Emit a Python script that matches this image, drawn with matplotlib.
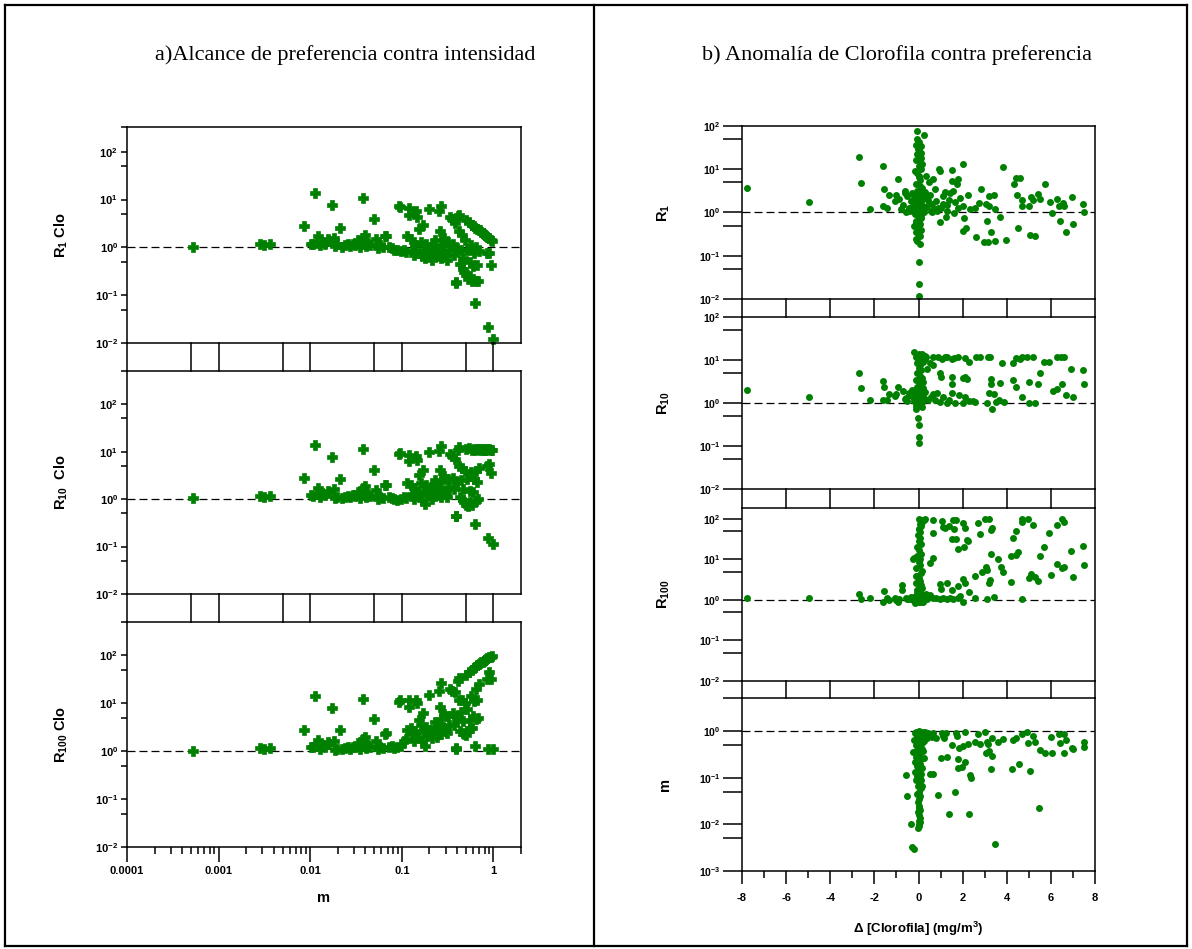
import numpy as np
import matplotlib
matplotlib.use('Agg')
import matplotlib.pyplot as plt
from matplotlib.lines import Line2D
from matplotlib.ticker import (FixedLocator, FixedFormatter, FuncFormatter,
                               NullFormatter, MultipleLocator, LogLocator)
from matplotlib.transforms import blended_transform_factory

plt.rcParams['font.family'] = ['Liberation Sans', 'DejaVu Sans']
plt.rcParams['font.weight'] = 'bold'
plt.rcParams['axes.labelweight'] = 'bold'
plt.rcParams['mathtext.fontset'] = 'custom'
plt.rcParams['mathtext.rm'] = 'Liberation Sans'
plt.rcParams['mathtext.bf'] = 'Liberation Sans:bold'
plt.rcParams['axes.unicode_minus'] = False

# ---- panel a: preference reach against intensity m ----
m_left = [0.00053, 0.0028, 0.0031, 0.0036, 0.0085, 0.0102, 0.0108, 0.0114, 0.0118, 0.0122,
          0.0128, 0.0135, 0.0145, 0.0155, 0.0162, 0.0175, 0.018, 0.0185, 0.0195, 0.0213,
          0.022, 0.024, 0.026, 0.0275, 0.029, 0.031, 0.033, 0.035, 0.036, 0.0377,
          0.038, 0.040, 0.041, 0.043, 0.045, 0.050, 0.052, 0.055, 0.058, 0.062,
          0.066, 0.068, 0.072, 0.078, 0.083, 0.088, 0.092, 0.095, 0.098, 0.105,
          0.11, 0.115, 0.119, 0.12, 0.125, 0.13, 0.135, 0.14, 0.144, 0.145,
          0.15, 0.155, 0.16, 0.165, 0.17, 0.175, 0.18, 0.185, 0.19, 0.196,
          0.2, 0.21, 0.215, 0.22, 0.23, 0.24, 0.25, 0.253, 0.258, 0.265,
          0.268, 0.27, 0.28, 0.29, 0.3, 0.31, 0.32, 0.33, 0.339, 0.35,
          0.36, 0.37, 0.38, 0.39, 0.395, 0.4, 0.41, 0.418, 0.42, 0.43,
          0.44, 0.45, 0.46, 0.47, 0.48, 0.49, 0.5, 0.507, 0.52, 0.53,
          0.54, 0.55, 0.56, 0.57, 0.58, 0.59, 0.6, 0.61, 0.62, 0.635,
          0.635, 0.64, 0.65, 0.66, 0.67, 0.68, 0.69, 0.7, 0.72, 0.74,
          0.76, 0.78, 0.8, 0.818, 0.84, 0.85, 0.86, 0.87, 0.89, 0.9,
          0.93, 0.95, 0.97, 0.99]
r1_left = [1.03, 1.15, 1.12, 1.15, 2.8, 1.18, 1.15, 14, 1.25, 1.7,
           1.1, 1.3, 1.2, 1.5, 1.35, 7.6, 1.55, 1.05, 1.15, 2.6,
           1.0, 1.1, 1.2, 1.05, 1.15, 1.1, 1.4, 1.0, 1.2, 10.6,
           1.6, 1.8, 1.05, 1.25, 1.1, 3.9, 1.5, 0.95, 1.1, 1.0,
           1.7, 1.75, 1.0, 0.95, 0.9, 0.88, 7.4, 7.0, 0.85, 0.9,
           0.8, 1.7, 6.6, 4.8, 1.5, 0.85, 0.7, 1.1, 5.9, 4.4,
           0.75, 2.4, 1.3, 0.65, 2.9, 0.9, 0.6, 1.2, 0.8, 6.3,
           0.7, 1.0, 0.55, 0.75, 1.4, 0.65, 0.9, 5.9, 2.2, 0.6,
           7.4, 1.1, 0.8, 1.6, 0.7, 0.55, 1.3, 0.9, 4.4, 3.9,
           1.2, 0.7, 3.2, 0.19, 0.18, 0.95, 4.6, 4.8, 2.2, 0.45,
           0.9, 1.8, 0.35, 0.6, 0.3, 1.4, 0.26, 3.8, 0.9, 0.22,
           3.4, 0.5, 0.25, 1.1, 0.2, 3.0, 0.4, 0.75, 2.8, 0.069,
           2.6, 0.2, 1.0, 0.43, 2.4, 0.2, 0.85, 2.3, 2.3, 2.1,
           2.0, 1.9, 1.85, 1.85, 1.7, 0.78, 1.65, 0.022, 0.77, 1.55,
           1.45, 0.43, 1.35, 0.012]
r10_left = [1.03, 1.15, 1.12, 1.15, 2.8, 1.2, 1.15, 14, 1.25, 1.7,
            1.1, 1.35, 1.2, 1.5, 1.35, 7.8, 1.6, 1.05, 1.1, 2.7,
            1.05, 1.1, 1.15, 1.1, 1.2, 1.15, 1.4, 1.05, 1.2, 11.5,
            1.7, 1.9, 1.1, 1.3, 1.15, 4.2, 1.55, 1.0, 1.1, 1.05,
            2.0, 2.0, 1.1, 1.05, 1.0, 0.95, 8.8, 9.5, 1.0, 1.1,
            1.05, 2.2, 8.5, 6.3, 2.0, 1.3, 1.0, 1.7, 8.0, 6.6,
            1.2, 3.2, 2.2, 0.95, 4.2, 1.5, 0.8, 2.0, 1.3, 10.0,
            1.2, 1.8, 1.0, 1.4, 2.5, 1.2, 1.6, 10.5, 4.2, 1.1,
            13.0, 2.3, 1.5, 3.0, 1.3, 1.1, 2.6, 1.8, 9.0, 8.0,
            2.8, 1.6, 7.0, 0.45, 0.43, 2.3, 11.0, 12.5, 5.0, 1.1,
            2.5, 4.5, 0.95, 1.6, 0.85, 3.9, 0.75, 11.5, 2.7, 0.7,
            12.0, 1.5, 0.85, 3.8, 0.75, 11.0, 1.4, 2.6, 11.5, 0.3,
            11.0, 0.9, 4.0, 2.3, 11.5, 1.0, 4.5, 11.5, 11.0, 11.5,
            11.0, 11.5, 11.0, 11.5, 11.0, 5.0, 11.5, 0.15, 5.5, 11.5,
            11.0, 3.6, 11.0, 0.115]
r100_left = [1.03, 1.15, 1.12, 1.15, 2.8, 1.22, 1.2, 14.5, 1.3, 1.75,
             1.1, 1.35, 1.2, 1.55, 1.4, 8.0, 1.65, 1.05, 1.1, 2.8,
             1.1, 1.15, 1.2, 1.1, 1.25, 1.2, 1.5, 1.1, 1.3, 12.5,
             1.8, 2.0, 1.15, 1.35, 1.2, 4.7, 1.6, 1.1, 1.2, 1.15,
             2.3, 2.4, 1.2, 1.3, 1.15, 1.25, 10.5, 11.5, 1.3, 1.6,
             1.8, 2.8, 11.5, 8.2, 3.0, 2.3, 1.6, 2.6, 12.0, 10.0,
             2.0, 4.5, 3.5, 1.6, 6.2, 2.5, 1.3, 3.2, 2.1, 15.0,
             2.2, 2.8, 1.9, 2.6, 4.0, 2.0, 3.3, 18.0, 8.5, 2.3,
             27.0, 4.8, 3.2, 6.0, 2.7, 2.4, 5.5, 3.6, 20.0, 18.0,
             6.2, 3.5, 17.0, 1.15, 1.1, 5.0, 30.0, 34.0, 12.0, 2.6,
             6.5, 11.5, 2.4, 4.2, 2.3, 10.0, 2.2, 40.0, 7.5, 2.6,
             45.0, 4.5, 3.0, 14.0, 3.0, 50.0, 5.5, 11.0, 55.0, 1.3,
             58.0, 4.8, 20.0, 12.0, 62.0, 5.0, 25.0, 66.0, 68.0, 72.0,
             74.0, 77.0, 80.0, 82.0, 85.0, 32.0, 88.0, 1.1, 45.0, 92.0,
             95.0, 33.0, 98.0, 1.12]

# ---- panel b: chlorophyll anomaly against preference ----
dchl_r1 = [-7.77, -4.97, -2.71, -2.62, -2.22, -1.59, -1.55, -1.59, -1.41, -1.33,
           -1.06, -1.02, -0.91, -0.90, -0.70, -0.60, -0.50, -0.45, -0.40, -0.35,
           -0.55, -0.80, -0.60, -0.05, 0.27, -0.08, -0.10, 0.12, -0.06, 0.12,
           0.18, -0.15, 0.00, 0.05, 0.00, 0.00, 0.00, -0.12, 0.09, -0.05,
           0.08, -0.20, -0.10, 0.00, 0.10, -0.15, 0.05, 0.15, -0.05, 0.20,
           -0.25, 0.00, 0.10, -0.10, 0.05, 0.20, -0.20, 0.00, 0.10, -0.05,
           0.15, -0.10, 0.05, 0.00, -0.05, 0.10, 0.00, 0.05, -0.10, 0.10,
           -0.05, 0.00, 0.08, -0.12, 0.12, 0.02, -0.08, 0.25, -0.30, 0.30,
           -0.02, 0.18, -0.18, 0.07, 0.22, -0.28, 0.28, 0.00, 0.05, -0.10,
           0.10, 0.02, -0.03, 0.34, 0.49, 0.67, 0.75, 0.94, 0.97, 0.97,
           1.12, 1.24, 1.54, 1.53, 1.55, 1.80, 1.75, 1.65, 1.60, 2.00,
           2.00, 2.05, 2.00, 2.15, 2.25, 2.35, 2.55, 2.60, 2.75, 2.85,
           2.95, 3.05, 3.10, 3.15, 3.20, 3.20, 3.30, 3.40, 3.45, 3.45,
           3.70, 3.85, 3.95, 4.35, 4.40, 4.45, 4.50, 4.60, 4.70, 4.70,
           5.00, 5.05, 5.10, 5.20, 5.30, 5.40, 5.50, 5.75, 5.95, 6.05,
           6.30, 6.35, 6.40, 6.55, 6.60, 6.70, 6.95, 7.00, 7.45, 7.50,
           0.40, 0.50, 0.60, 0.70, 0.80, 0.90, 0.45, 0.55, 0.35, 1.30,
           1.40, 1.10, 0.60, 0.85, 1.00, 1.20, 1.45, 1.30, 1.80, 1.90]
r1_right = [3.65, 1.73, 18.9, 4.75, 1.19, 11.9, 3.45, 1.42, 1.24, 2.6,
            1.8, 2.5, 5.9, 2.0, 1.5, 2.9, 2.4, 1.3, 1.1, 1.8,
            1.0, 1.2, 3.2, 76, 61, 49, 36, 35, 22, 18.5,
            13, 9.2, 7.0, 4.0, 0.07, 0.022, 0.012, 0.24, 0.19, 0.22,
            0.29, 0.5, 0.6, 0.7, 0.8, 0.9, 1.0, 1.1, 1.2, 1.3,
            1.4, 1.5, 1.6, 1.8, 2.0, 2.2, 2.4, 2.6, 2.9, 3.2,
            3.6, 4.5, 5.5, 6.5, 8.0, 10, 12, 15, 0.35, 0.4,
            0.45, 0.3, 0.55, 0.65, 0.75, 0.85, 0.95, 1.05, 1.15, 1.25,
            1.35, 1.45, 1.7, 1.9, 2.1, 2.8, 3.0, 28, 20, 16,
            24, 42, 30, 7.0, 5.1, 6.1, 3.45, 10, 9.2, 0.61,
            2.4, 0.77, 9.5, 5.4, 3.2, 5.9, 4.5, 1.76, 0.96, 13.5,
            1.42, 0.73, 0.38, 0.43, 2.6, 1.2, 1.3, 0.27, 1.65, 3.45,
            0.21, 1.55, 0.63, 0.21, 2.4, 1.4, 0.35, 2.5, 0.22, 1.2,
            0.79, 11.5, 0.23, 4.5, 6.2, 2.6, 0.43, 6.4, 1.95, 1.42,
            1.42, 0.3, 2.3, 1.9, 0.29, 2.65, 2.1, 4.5, 1.76, 0.95,
            2.1, 1.42, 0.62, 1.7, 1.45, 0.36, 2.3, 0.54, 1.6, 1.0,
            1.4, 2.6, 1.6, 1.2, 1.8, 1.3, 1.9, 1.1, 2.2, 1.5,
            1.9, 1.6, 1.0, 1.1, 1.25, 3.0, 2.8, 1.1, 1.3, 2.2]

dchl_r10 = [-7.77, -4.97, -2.71, -2.62, -2.22, -1.59, -1.55, -1.59, -1.41, -1.33,
            -1.06, -1.02, -0.91, -0.70, -0.55, -0.50, -0.40, -0.30, -0.45, -0.60,
            -0.20, 0.00, 0.00, 0.00, -0.02, -0.12, -0.10, 0.05, 0.10, -0.05,
            0.15, -0.20, 0.20, -0.15, 0.00, 0.25, -0.25, 0.08, -0.08, 0.12,
            -0.12, 0.18, 0.02, -0.18, 0.22, -0.05, 0.10, 0.00, -0.10, 0.15,
            0.05, -0.05, 0.12, 0.00, 0.08, -0.08, 0.20, 0.10, 0.02, 0.25,
            -0.05, 0.15, 0.30, 0.05, 0.18, -0.10, 0.22, 0.00, 0.12, 0.28,
            0.35, 0.05, 0.10, -0.15, 0.20, 0.03, -0.03, 0.15, -0.07, 0.07,
            0.67, 0.90, 1.05, 1.20, 1.30, 1.50, 1.60, 1.80, 2.10, 2.30,
            2.60, 2.80, 3.15, 3.25, 3.77, 4.30, 4.40, 4.60, 4.67, 4.93,
            5.20, 5.70, 5.90, 6.30, 6.48, 6.58, 6.93, 7.46, 0.40, 0.50,
            0.64, 0.97, 1.00, 1.54, 1.54, 2.03, 2.10, 2.20, 3.30, 3.30,
            3.70, 4.30, 4.40, 5.00, 5.40, 5.50, 6.30, 6.50, 7.50, 0.67,
            0.75, 0.97, 1.12, 1.27, 1.50, 1.65, 2.00, 2.10, 2.30, 2.45,
            2.55, 3.10, 3.20, 3.35, 3.40, 3.50, 3.65, 3.87, 4.70, 5.00,
            5.30, 6.10, 6.70, 7.00, 0.30, 0.45, 0.55, 0.85, 1.40, 1.85]
r10_right = [2.03, 1.4, 5.0, 2.26, 1.15, 3.3, 2.4, 1.2, 1.2, 1.6,
             1.45, 1.65, 2.3, 1.9, 1.3, 1.1, 1.5, 2.0, 1.7, 1.25,
             15, 0.115, 0.16, 0.3, 0.46, 0.74, 0.85, 0.9, 0.95, 1.0,
             1.05, 1.1, 1.15, 1.2, 1.25, 1.3, 1.35, 1.4, 1.5, 1.6,
             1.7, 1.8, 1.9, 2.0, 2.2, 2.4, 2.7, 3.0, 3.4, 3.8,
             4.3, 5.0, 5.8, 6.6, 7.5, 8.5, 9.2, 10, 10.5, 11,
             11.5, 12, 12.5, 13, 13.5, 12, 11, 14, 9.5, 10.5,
             11.5, 12.5, 13, 1.1, 3.0, 2.1, 1.3, 0.8, 1.05, 1.15,
             11.5, 11.5, 10.5, 11.5, 11.5, 10.5, 11, 11.5, 11, 9.0,
             11.5, 11.5, 11.5, 11.5, 8.3, 8.5, 11, 10.5, 11.5, 11.5,
             11.5, 9.1, 8.8, 11.5, 11.5, 11.5, 6.2, 5.9, 6.2, 8.5,
             7.7, 5.1, 4.0, 4.0, 2.8, 3.8, 4.1, 3.6, 3.6, 2.7,
             2.9, 3.45, 2.35, 3.15, 2.7, 5.0, 2.1, 2.8, 2.7, 1.6,
             1.15, 1.05, 1.35, 1.0, 1.7, 1.0, 1.0, 1.35, 1.1, 1.1,
             1.05, 1.0, 1.7, 0.72, 1.6, 1.05, 1.2, 1.05, 1.4, 1.0,
             1.0, 1.95, 1.5, 1.4, 1.8, 1.2, 1.4, 1.7, 1.15, 1.5]

dchl_r100 = [-7.77, -4.97, -2.71, -2.62, -2.22, -1.55, -1.59, -1.41, -1.33, -1.06,
             -1.02, -0.91, -0.73, -0.73, -0.90, -0.55, -0.45, -0.35, -0.26, -0.20,
             -0.15, 0.00, 0.05, -0.05, 0.10, -0.10, 0.00, 0.15, -0.05, 0.08,
             -0.08, 0.02, 0.12, -0.12, 0.05, 0.00, -0.03, 0.10, 0.18, -0.10,
             0.05, 0.00, 0.08, -0.05, 0.12, 0.02, -0.08, 0.10, 0.00, 0.05,
             -0.03, 0.08, 0.02, 0.12, 0.05, 0.15, 0.25, 0.00, 0.20, 0.10,
             0.25, -0.20, 0.20, -0.25, 0.30, 0.40, 0.15, -0.10, 0.10, 0.00,
             0.30, 0.67, 0.67, 1.05, 1.10, 1.20, 1.40, 1.55, 1.70, 1.60,
             1.50, 1.70, 1.80, 2.05, 2.00, 2.10, 2.20, 2.25, 2.70, 2.80,
             3.00, 3.20, 3.30, 3.35, 4.30, 4.40, 4.70, 4.70, 4.95, 5.20,
             5.90, 6.30, 6.50, 6.60, 0.50, 0.67, 0.97, 1.28, 1.00, 1.50,
             1.80, 2.00, 2.10, 2.30, 2.55, 2.90, 3.05, 3.10, 3.20, 3.25,
             3.30, 3.60, 3.75, 3.85, 4.20, 4.20, 4.40, 4.50, 5.00, 5.10,
             5.30, 5.40, 5.50, 5.70, 6.00, 6.30, 6.50, 6.60, 6.90, 7.00,
             7.45, 7.50, 0.67, 0.97, 1.12, 1.28, 1.43, 1.58, 2.00, 2.55,
             3.10, 3.40, 4.70, 0.50, 0.80, 1.80, 1.90, -0.50, -0.40, 0.35]
r100_right = [1.12, 1.12, 1.38, 1.06, 1.1, 1.68, 0.9, 1.15, 1.0, 1.15,
              1.02, 0.88, 2.3, 1.75, 1.08, 1.1, 1.05, 1.2, 10, 10.7,
              0.85, 0.9, 0.95, 1.0, 1.05, 1.1, 1.2, 1.3, 1.45, 1.6,
              1.8, 2.0, 2.3, 2.6, 3.0, 3.5, 4.0, 4.6, 5.3, 6.2,
              7.2, 8.5, 10, 12, 14, 17, 20, 24, 28, 33,
              40, 48, 57, 66, 75, 85, 95, 98, 92, 80,
              1.0, 1.2, 0.9, 1.0, 1.1, 1.05, 2.0, 3.8, 0.88, 55,
              97, 95, 46, 88, 65, 60, 66, 95, 95, 56,
              32, 32, 18, 20, 80, 60, 31, 29, 80, 42,
              97, 97, 52, 60, 34, 50, 83, 97, 97, 70,
              46, 70, 97, 83, 8.4, 11, 2.5, 2.6, 1.9, 1.75,
              2.2, 3.2, 2.55, 1.6, 3.9, 5.0, 6.6, 5.5, 2.6, 3.1,
              14, 10, 6.4, 5.0, 2.8, 12.4, 13, 15.6, 3.5, 4.3,
              3.7, 3.0, 12.5, 20, 4.2, 7.6, 6.0, 6.4, 16.5, 3.6,
              22, 7.2, 1.1, 1.05, 1.1, 1.05, 1.1, 1.05, 0.87, 1.1,
              1.05, 1.2, 1.08, 1.3, 1.15, 1.1, 1.25, 1.05, 1.15, 1.4]

dchl_m = [-0.56, -0.50, -0.35, -0.30, -0.20, 0.00, -0.10, -0.15, 0.05, -0.05,
          0.10, -0.20, 0.00, 0.15, -0.12, 0.08, -0.05, 0.20, -0.25, 0.02,
          -0.10, 0.12, -0.18, 0.05, -0.08, 0.18, 0.00, -0.15, 0.10, -0.05,
          0.05, -0.10, 0.00, 0.08, -0.03, 0.12, 0.02, -0.05, 0.05, 0.00,
          -0.02, 0.03, 0.00, 0.05, -0.03, 0.02, 0.08, 0.00, 0.05, 0.00,
          0.03, -0.02, 0.15, 0.25, 0.10, 0.15, 0.50, 0.35, 0.15, 0.20,
          0.67, 0.67, 0.90, 1.00, 1.05, 1.17, 1.30, 1.40, 1.50, 1.65,
          1.70, 1.75, 1.80, 1.80, 1.85, 1.97, 2.10, 2.00, 2.10, 2.25,
          2.30, 2.35, 2.40, 2.58, 2.70, 2.80, 3.00, 3.05, 3.10, 3.15,
          3.20, 3.30, 3.35, 3.35, 3.47, 3.60, 3.85, 4.25, 4.30, 4.40,
          4.55, 4.70, 4.90, 4.95, 5.07, 5.20, 5.30, 5.45, 5.50, 5.75,
          6.00, 6.05, 6.35, 6.40, 6.60, 6.60, 6.70, 6.95, 7.00, 7.50,
          7.50, 0.30, 0.40, 0.55, 0.80, 1.10, 1.25, 0.25, 0.45, 0.60]
m_right = [0.112, 0.04, 0.0104, 0.0033, 0.0029, 1.0, 0.95, 0.9, 0.85, 0.8,
           0.7, 0.65, 0.6, 0.55, 0.5, 0.45, 0.4, 0.38, 0.35, 0.3,
           0.28, 0.25, 0.22, 0.2, 0.18, 0.16, 0.15, 0.13, 0.12, 0.11,
           0.1, 0.09, 0.08, 0.07, 0.065, 0.06, 0.05, 0.045, 0.04, 0.035,
           0.03, 0.025, 0.022, 0.02, 0.018, 0.016, 0.014, 0.012, 0.011, 0.01,
           0.009, 0.0085, 0.42, 0.27, 0.09, 0.066, 0.12, 0.87, 0.64, 0.95,
           0.9, 0.12, 0.043, 0.26, 0.9, 0.72, 0.28, 0.017, 0.51, 0.05,
           0.9, 0.8, 0.16, 0.25, 0.44, 0.17, 0.22, 0.47, 0.95, 0.54,
           0.017, 0.115, 0.1, 0.58, 0.88, 0.54, 0.95, 0.33, 0.58, 0.54,
           0.38, 0.15, 0.29, 0.72, 0.0037, 0.58, 0.68, 0.15, 0.63, 0.72,
           0.2, 0.88, 0.95, 0.56, 0.136, 0.8, 0.58, 0.022, 0.4, 0.34,
           0.75, 0.34, 0.88, 0.56, 0.88, 0.33, 0.63, 0.44, 0.42, 0.58,
           0.45, 0.95, 0.7, 0.85, 0.7, 0.8, 0.9, 0.6, 0.9, 0.75]

GREEN = '#008000'
W, H = 1192, 949
fig = plt.figure(figsize=(W / 100, H / 100), dpi=100)


def rect(l, t, r, b):
    # pixel box (left, top, right, bottom) -> figure fraction
    return [l / W, 1 - b / H, (r - l) / W, (b - t) / H]


def decades(bold):
    def fmt(v, pos):
        n = int(round(np.log10(v)))
        if bold:
            return r'$\mathbf{10^{%d}}$' % n
        return r'$\mathrm{10^{%d}}$' % n
    return FuncFormatter(fmt)


def gap_lines(ax_up, ax_dn, xs):
    tr = blended_transform_factory(ax_up.transData, fig.transFigure)
    y_lo = ax_dn.get_position().y1
    y_hi = ax_up.get_position().y0
    for x in xs:
        fig.add_artist(Line2D([x, x], [y_lo, y_hi], transform=tr,
                              color='black', lw=1.1, clip_on=False))


def style_spines(ax):
    for s in ax.spines.values():
        s.set_linewidth(1.1)


# ---------------- left column ----------------
left_boxes = [(127, 127, 521, 343), (127, 371, 521, 594), (127, 622, 521, 847)]
left_tops = [330, 500, 500]
left_series = [r1_left, r10_left, r100_left]
left_names = [r'$\mathbf{R_{1}}$ Clo', r'$\mathbf{R_{10}}$  Clo', r'$\mathbf{R_{100}}$ Clo']
left_axes = []
for i, (box, top, ys, name) in enumerate(zip(left_boxes, left_tops, left_series, left_names)):
    ax = fig.add_axes(rect(*box))
    ax.set_xscale('log')
    ax.set_yscale('log')
    ax.set_xlim(1e-4, 2)
    ax.set_ylim(1e-2, top)
    ax.axhline(1, color='black', lw=0.9, dashes=(6.4, 3.2), zorder=1)
    ax.plot(m_left, ys, 'P', color=GREEN, ms=6.5, mec=GREEN, mew=0.5, zorder=2,
            clip_on=False)
    ax.yaxis.set_major_locator(FixedLocator([1e-2, 1e-1, 1, 10, 100]))
    ax.yaxis.set_minor_locator(FixedLocator([0.05, 0.5, 5, 50, top]))
    ax.yaxis.set_major_formatter(decades(True))
    ax.yaxis.set_minor_formatter(NullFormatter())
    ax.tick_params(axis='y', which='both', direction='out', length=4.5, width=1.1,
                   labelsize=8, pad=2, right=False)
    ax.set_ylabel(name, fontsize=10.5)
    ax.yaxis.set_label_coords(-0.145, 0.5)
    style_spines(ax)
    if i < 2:
        ax.tick_params(axis='x', which='both', bottom=False, top=False, labelbottom=False)
    else:
        ax.xaxis.set_major_locator(FixedLocator([1e-4, 1e-3, 1e-2, 1e-1, 1]))
        ax.xaxis.set_major_formatter(FixedFormatter(['0.0001', '0.001', '0.01', '0.1', '1']))
        ax.xaxis.set_minor_locator(LogLocator(base=10, subs=np.arange(2, 10) * 1.0, numticks=20))
        ax.xaxis.set_minor_formatter(NullFormatter())
        ax.tick_params(axis='x', which='major', direction='out', length=11, width=1.1,
                       labelsize=8, pad=3, top=False)
        ax.tick_params(axis='x', which='minor', direction='out', length=5, width=1.1, top=False)
        ax.set_xlabel('m', fontsize=10.5)
        ax.xaxis.set_label_coords(0.5, -0.195)
    left_axes.append(ax)

left_gap_x = [1e-4, 5e-4, 1e-3, 5e-3, 1e-2, 5e-2, 0.1, 0.5, 1]
for up, dn in zip(left_axes[:-1], left_axes[1:]):
    gap_lines(up, dn, left_gap_x)

# ---------------- right column ----------------
right_boxes = [(742, 126, 1095, 299), (742, 317, 1095, 489),
               (742, 508, 1095, 681), (742, 698, 1095, 871)]
right_lims = [(1e-2, 1e2), (1e-2, 1e2), (1e-2, 186), (1e-3, 5.1)]
right_x = [dchl_r1, dchl_r10, dchl_r100, dchl_m]
right_y = [r1_right, r10_right, r100_right, m_right]
right_names = [r'$\mathbf{R_{1}}$', r'$\mathbf{R_{10}}$', r'$\mathbf{R_{100}}$', 'm']
right_axes = []
for i, (box, lim, xs, ys, name) in enumerate(zip(right_boxes, right_lims, right_x,
                                                 right_y, right_names)):
    ax = fig.add_axes(rect(*box))
    ax.set_yscale('log')
    ax.set_xlim(-8, 8)
    ax.set_ylim(*lim)
    ax.axhline(1, color='black', lw=0.9, dashes=(6.4, 3.2), zorder=1)
    ax.plot(xs, ys, 'o', color=GREEN, ms=5, mew=0, zorder=2, clip_on=False)
    lo = int(round(np.log10(lim[0])))
    major = [10.0 ** k for k in range(lo, 3) if 10.0 ** k <= lim[1] * 1.001]
    minor = [5 * 10.0 ** k for k in range(lo, 2) if 5 * 10.0 ** k < lim[1]]
    ax.yaxis.set_major_locator(FixedLocator(major))
    ax.yaxis.set_minor_locator(FixedLocator(minor))
    ax.yaxis.set_major_formatter(decades(False))
    ax.yaxis.set_minor_formatter(NullFormatter())
    ax.tick_params(axis='y', which='both', direction='out', length=13.5, width=1.1,
                   labelsize=7.5, pad=2, right=False)
    ax.set_ylabel(name, fontsize=10.5)
    ax.yaxis.set_label_coords(-0.198, 0.5)
    style_spines(ax)
    if i < 3:
        ax.tick_params(axis='x', which='both', bottom=False, top=False, labelbottom=False)
    else:
        ax.xaxis.set_major_locator(MultipleLocator(2))
        ax.xaxis.set_minor_locator(MultipleLocator(1))
        ax.tick_params(axis='x', which='major', direction='out', length=9.5, width=1.1,
                       labelsize=8, pad=6, top=False)
        ax.tick_params(axis='x', which='minor', direction='out', length=5, width=1.1, top=False)
        ax.set_xlabel(r'Δ [Clorofila] (mg/m$\mathbf{^{3}}$)', fontsize=9.5)
        ax.xaxis.set_label_coords(0.5, -0.28)
    right_axes.append(ax)

for up, dn in zip(right_axes[:-1], right_axes[1:]):
    gap_lines(up, dn, list(range(-8, 9, 2)))

# ---------------- frame and titles ----------------
frame = [((5, 5), (1187, 5)), ((5, 5), (5, 946)), ((1187, 5), (1187, 946)),
         ((5, 946), (1187, 946)), ((594, 5), (594, 946))]
for (x0, y0), (x1, y1) in frame:
    fig.add_artist(Line2D([x0 / W, x1 / W], [1 - y0 / H, 1 - y1 / H],
                          transform=fig.transFigure, color='black', lw=1.6))

serif = ['Liberation Serif', 'DejaVu Serif']
fig.text(345 / W, 1 - 55 / H, 'a)Alcance de preferencia contra intensidad',
         ha='center', va='center', family=serif, weight='normal', fontsize=16)
fig.text(897 / W, 1 - 55 / H, 'b) Anomalía de Clorofila contra preferencia',
         ha='center', va='center', family=serif, weight='normal', fontsize=16)

fig.savefig('out.png', dpi=100)
